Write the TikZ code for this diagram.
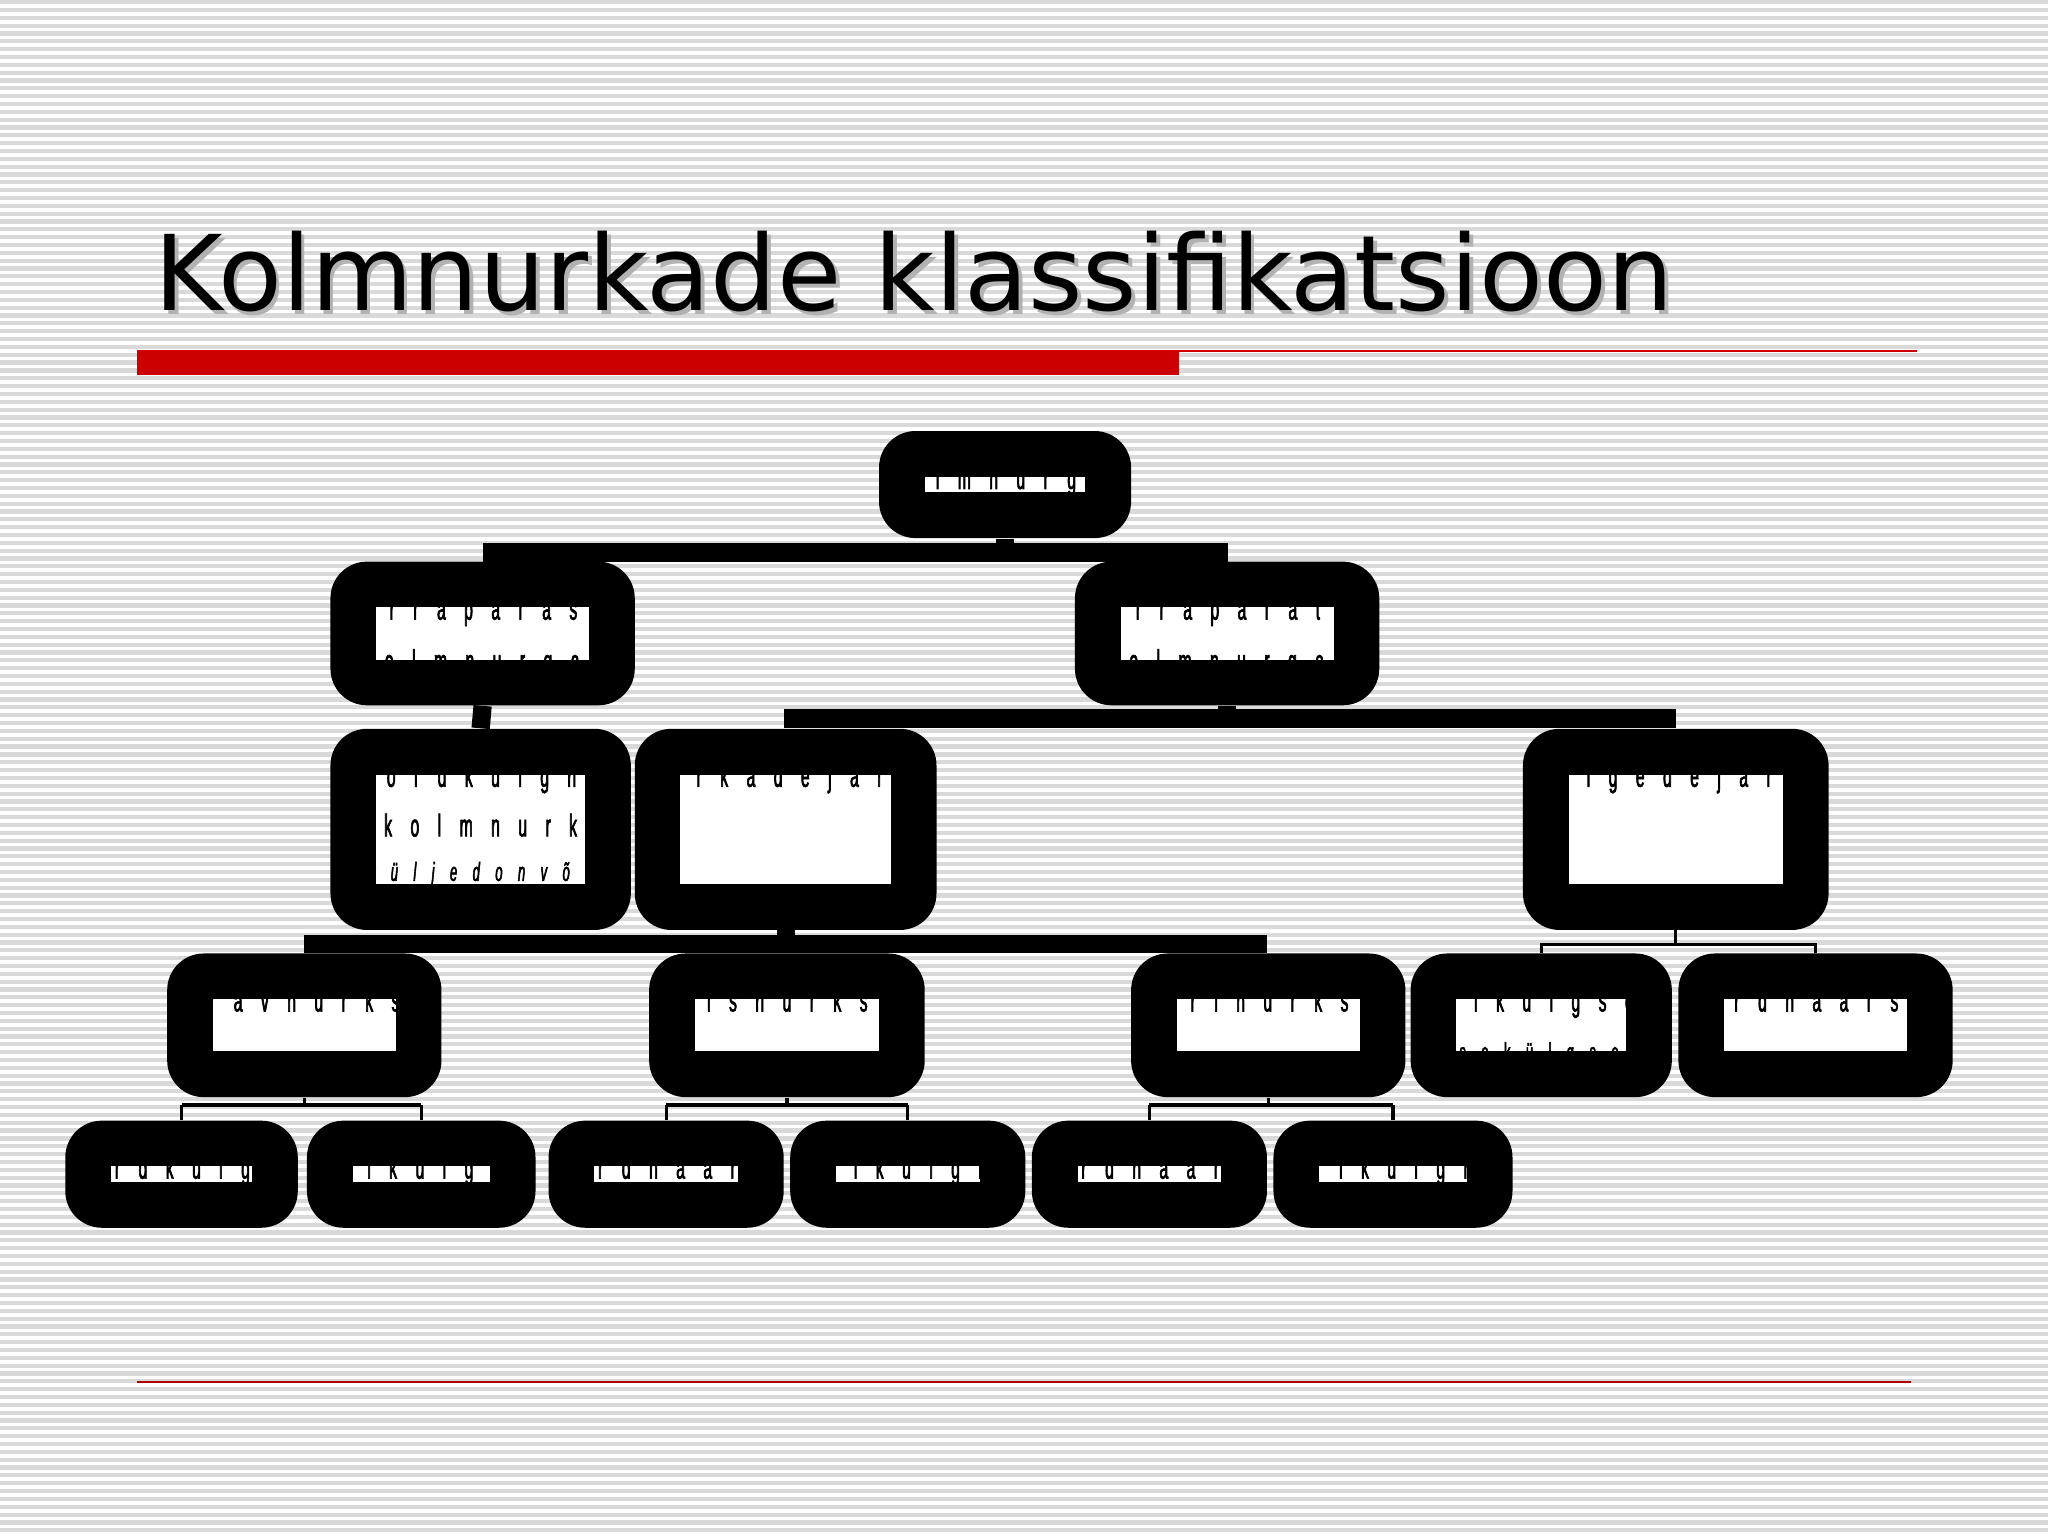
\documentclass[tikz,border=0pt]{standalone}
\usepackage{fontspec}
\setmainfont{DejaVu Sans}
\newfontfamily\cond[FakeStretch=0.5,LetterSpace=45,FakeBold=2]{Liberation Sans}
\usetikzlibrary{fit}
\tikzset{
  outerbox/.style={fill=black,draw=none,inner sep=0pt,rounded corners=14pt},
  innerbox/.style={fill=white,draw=none,inner sep=0pt},
  txt/.style={font=\cond\fontsize{12}{14}\selectfont,align=center,inner sep=0pt,anchor=north},
  conn/.style={line width=7pt},
  thin/.style={line width=1.2pt}
}
\newcommand\bx[6]{%
  \node[outerbox,fit={(#2,#3)(#4,#5)}] (#1) {};
  \node[innerbox,fit={({#2+35},{#3+35})({#4-35},{#5-35})}] (#1i) {};
  \begin{scope}
    \clip (#1i.south west) rectangle (#1i.north east);
    \node[txt] at ([yshift=4pt]#1i.north) {#6};
  \end{scope}}
\begin{document}
\begin{tikzpicture}[x=0.5pt,y=-0.5pt]
\useasboundingbox (0,0) rectangle (1568,1176);
\fill[white] (0,0) rectangle (1568,1176);
\foreach \y in {0,6,...,1176} \fill[gray!30] (0,\y) rectangle (1568,\y+3.2);
% title
\node[anchor=base west,font=\fontsize{40}{44}\selectfont,text=gray!60,inner sep=0] at (121,241) {Kolmnurkade klassifikatsioon};
\node[anchor=base west,font=\fontsize{40}{44}\selectfont,inner sep=0] (title) at (118,238) {Kolmnurkade klassifikatsioon};
\fill[red!80!black] (105,268) rectangle (903,287);
\draw[red!80!black,line width=0.8pt] (903,268.5) -- (1468,268.5);
\draw[red!70!black,line width=0.5pt] (105,1058) -- (1463,1058);
% connectors
\draw[conn] (370,423) -- (940,423);
\draw[conn] (600,550) -- (1283,550);
\draw[conn] (233,723) -- (970,723);
% boxes
\bx{top}{673}{330}{866}{412}{K o l m n u r g a d}
\bx{kp}{253}{430}{486}{540}{K o r r a p ä r a s e d\\[6pt] k o l m n u r g a d}
\bx{kt}{823}{430}{1056}{540}{K o r r a p ä r a t u d\\[6pt] k o l m n u r g a d}
\bx{vk}{253}{558}{483}{712}{V õ r d k ü l g n e\\[5pt] k o l m n u r k\\[3pt] {\fontsize{10}{12}\selectfont\itshape K õ i k k ü l j e d o n v õ r d s e d}\\[2pt] {\fontsize{10}{12}\selectfont\itshape K õ i k n u r g a d o n v õ r d s e d}}
\bx{nj}{486}{558}{717}{712}{N u r k a d e j ä r g i}
\bx{kj}{1166}{558}{1400}{712}{K ü l g e d e j ä r g i}
\bx{tv}{128}{730}{338}{840}{T e r a v n u r k s e d}
\bx{ta}{497}{730}{708}{840}{T ä i s n u r k s e d}
\bx{nu}{866}{730}{1076}{840}{N ü r i n u r k s e d}
\bx{ek}{1080}{730}{1280}{840}{E r i k ü l g s e d\\[5pt] {\fontsize{10}{12}\selectfont( i s e k ü l g s e d )}}
\bx{vh}{1285}{730}{1495}{840}{V õ r d h a a r s e d}
\bx{a1}{50}{858}{228}{940}{V õ r d k ü l g n e}
\bx{a2}{235}{858}{410}{940}{E r i k ü l g n e}
\bx{a3}{420}{858}{600}{940}{V õ r d h a a r n e}
\bx{a4}{605}{858}{785}{940}{E r i k ü l g n e}
\bx{a5}{790}{858}{970}{940}{V õ r d h a a r n e}
\bx{a6}{975}{858}{1158}{940}{E r i k ü l g n e}
% vertical connectors
\draw[conn] (top.south) -- (top.south|-0,423);
\draw[conn] (kp.south) -- (vk.north);
\draw[conn] (kt.south) -- (kt.south|-0,550);
\draw[conn] (nj.south) -- (nj.south|-0,723);
\draw[thin] (kj.south) -- (kj.south|-0,723) -| (ek.north);
\draw[thin] (kj.south|-0,723) -| (vh.north);
\foreach \p/\l/\r in {tv/a1/a2,ta/a3/a4,nu/a5/a6}{
  \draw[thin] (\p.south) -- (\p.south|-0,846);
  \draw[thin] (\l.north|-0,846) -- (\r.north|-0,846);
  \draw[thin] (\l.north) -- (\l.north|-0,846);
  \draw[thin] (\r.north) -- (\r.north|-0,846);}
\end{tikzpicture}
\end{document}
